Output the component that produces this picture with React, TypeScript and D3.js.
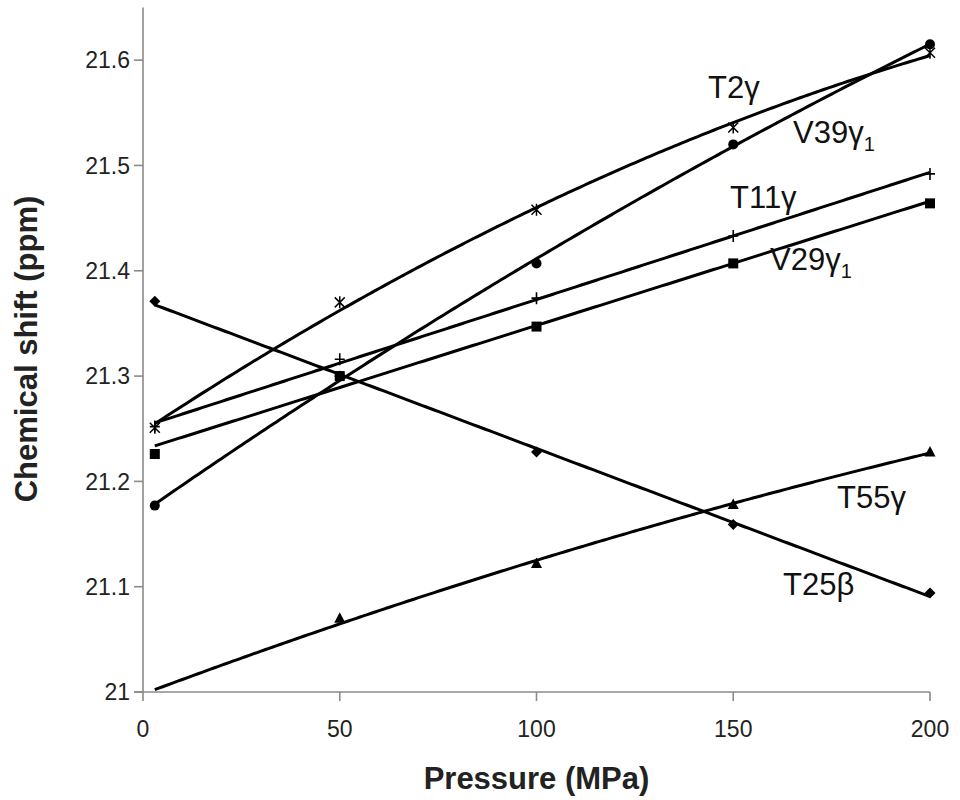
// Chemical shift vs pressure – six residues with spreadsheet-style trendlines
import React from 'react';
import * as d3 from 'd3';

// pressure (MPa) where each shift was measured
const pressure = [3, 50, 100, 150, 200];

// chemical shift (ppm) per residue
const t2Gamma = [21.251, 21.37, 21.458, 21.536, 21.607];
const v39Gamma1 = [21.177, 21.3, 21.407, 21.52, 21.615];
const t11Gamma = [21.252, 21.316, 21.374, 21.433, 21.492];
const v29Gamma1 = [21.226, 21.3, 21.347, 21.407, 21.464];
const t55Gamma = [21.0, 21.07, 21.122, 21.178, 21.228];
const t25Beta = [21.371, 21.3, 21.228, 21.159, 21.094];

const xTicks = [0, 50, 100, 150, 200];
const yTicks = [21, 21.1, 21.2, 21.3, 21.4, 21.5, 21.6];

const FONT = '"Liberation Sans", Arial, sans-serif';

// least squares polynomial (order 1 or 2), like a spreadsheet trendline
const polyFit = (xs: number[], ys: number[], order: number) => {
  const n = order + 1;
  const m: number[][] = [];
  for (let r = 0; r < n; r++) {
    const row: number[] = [];
    for (let c = 0; c < n; c++) row.push(d3.sum(xs, x => x ** (r + c)));
    row.push(d3.sum(xs, (x, i) => ys[i] * x ** r));
    m.push(row);
  }
  // gaussian elimination
  for (let c = 0; c < n; c++) {
    for (let r = c + 1; r < n; r++) {
      const f = m[r][c] / m[c][c];
      for (let k = c; k <= n; k++) m[r][k] -= f * m[c][k];
    }
  }
  const b = new Array(n).fill(0);
  for (let r = n - 1; r >= 0; r--) {
    let v = m[r][n];
    for (let k = r + 1; k < n; k++) v -= m[r][k] * b[k];
    b[r] = v / m[r][r];
  }
  return (x: number) => b.reduce((acc, coef, k) => acc + coef * x ** k, 0);
};

type Series = { name: string; values: number[]; marker: string; order: number; hidden?: number[] };

const series: Series[] = [
  { name: 'T2', values: t2Gamma, marker: 'star', order: 2 },
  { name: 'V39', values: v39Gamma1, marker: 'circle', order: 2 },
  { name: 'T11', values: t11Gamma, marker: 'plus', order: 1 },
  { name: 'V29', values: v29Gamma1, marker: 'square', order: 1 },
  { name: 'T55', values: t55Gamma, marker: 'triangle', order: 2, hidden: [0] },
  { name: 'T25', values: t25Beta, marker: 'diamond', order: 1 },
];

const Marker = ({ type, x, y }: { type: string; x: number; y: number }) => {
  if (type === 'circle') return <circle cx={x} cy={y} r={5} fill="#000" />;
  if (type === 'square') return <rect x={x - 5} y={y - 5} width={10} height={10} fill="#000" />;
  if (type === 'triangle') return <path d={`M${x},${y - 6}L${x + 5.5},${y + 4.5}L${x - 5.5},${y + 4.5}Z`} fill="#000" />;
  if (type === 'diamond') return <path d={`M${x},${y - 5.5}L${x + 5.5},${y}L${x},${y + 5.5}L${x - 5.5},${y}Z`} fill="#000" />;
  if (type === 'plus')
    return <path d={`M${x - 5},${y}H${x + 5}M${x},${y - 6}V${y + 6}`} stroke="#000" strokeWidth={1.6} />;
  // star: an x with a vertical bar
  return (
    <path
      d={`M${x - 5},${y - 5}L${x + 5},${y + 5}M${x - 5},${y + 5}L${x + 5},${y - 5}M${x},${y - 6}V${y + 6}`}
      stroke="#000"
      strokeWidth={1.5}
    />
  );
};

const App = () => {
  const width = 960, height = 800;
  const margin = { left: 143, right: 30, top: 7.5, bottom: 108 };

  const xScale = d3.scaleLinear().domain([0, 200]).range([margin.left, width - margin.right]);
  const yScale = d3.scaleLinear().domain([21, 21.65]).range([height - margin.bottom, margin.top]);

  // trendlines are drawn from the first to the last pressure
  const samples = d3.range(pressure[0], pressure[pressure.length - 1] + 0.01, 1);
  const x0 = xScale(0), y0 = yScale(21);

  return (
    <svg width={width} height={height} style={{ position: 'absolute', left: 0, top: 0, background: '#fff' }}>
      <defs>
        <clipPath id="plot">
          <rect x={x0} y={0} width={width - x0} height={y0} />
        </clipPath>
      </defs>

      {/* axes */}
      <g stroke="#8a8a8a" strokeWidth={1.6}>
        <line x1={x0} x2={x0} y1={margin.top} y2={y0} />
        <line x1={x0 - 9} x2={xScale(200)} y1={y0} y2={y0} />
        {yTicks.map(t => <line key={t} x1={x0 - 9} x2={x0} y1={yScale(t)} y2={yScale(t)} />)}
        {xTicks.map(t => <line key={t} x1={xScale(t)} x2={xScale(t)} y1={y0} y2={y0 + 9} />)}
      </g>
      <g fontFamily={FONT} fontSize={23} fill="#222">
        {yTicks.map(t => (
          <text key={t} x={x0 - 13} y={yScale(t)} dy="0.36em" textAnchor="end">{d3.format('~g')(t)}</text>
        ))}
        {xTicks.map(t => (
          <text key={t} x={xScale(t)} y={y0 + 45} textAnchor="middle">{t}</text>
        ))}
      </g>
      <text x={(x0 + xScale(200)) / 2} y={789} textAnchor="middle" fontFamily={FONT} fontSize={31} fontWeight="bold" fill="#222">
        Pressure (MPa)
      </text>
      <text transform="translate(37,349) rotate(-90)" textAnchor="middle" fontFamily={FONT} fontSize={31} fontWeight="bold" fill="#222">
        Chemical shift (ppm)
      </text>

      {/* trendlines and markers */}
      <g clipPath="url(#plot)">
        {series.map(s => {
          const f = polyFit(pressure, s.values, s.order);
          const path = d3.line<number>().x(p => xScale(p)).y(p => yScale(f(p)))(samples);
          return <path key={s.name} d={path || ''} fill="none" stroke="#000" strokeWidth={3} />;
        })}
        {series.map(s =>
          s.values.map((v, i) =>
            s.hidden && s.hidden.includes(i) ? null : (
              <Marker key={`${s.name}-${i}`} type={s.marker} x={xScale(pressure[i])} y={yScale(v)} />
            )
          )
        )}
      </g>

      {/* series labels */}
      <g fontFamily={FONT} fontSize={31} fill="#111">
        <text x={708} y={98}>T2γ</text>
        <text x={793} y={143}>V39<tspan>γ</tspan><tspan fontSize={20} dy={8}>1</tspan></text>
        <text x={730} y={208}>T11γ</text>
        <text x={770} y={270}>V29<tspan>γ</tspan><tspan fontSize={20} dy={8}>1</tspan></text>
        <text x={837} y={508}>T55γ</text>
        <text x={783} y={595}>T25β</text>
      </g>
    </svg>
  );
};

export default App;
